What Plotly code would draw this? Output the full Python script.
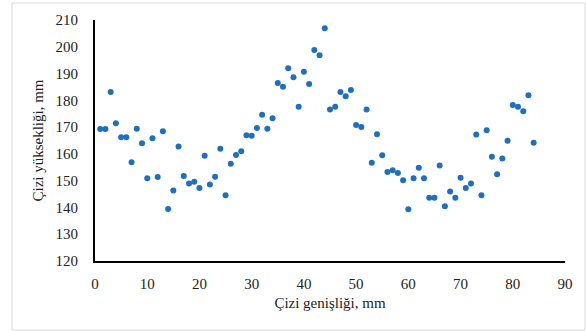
import plotly.graph_objects as go

x_vals = list(range(1, 85))
y_vals = [169.3, 169.3, 183.1, 171.4, 166.2, 166.2, 156.9, 169.4, 164.0, 150.9,
          165.8, 151.4, 168.5, 139.4, 146.3, 162.8, 151.7, 148.9, 149.6, 147.3,
          159.3, 148.6, 151.5, 161.9, 144.6, 156.3, 159.6, 161.0, 167.0, 166.8,
          169.7, 174.6, 169.4, 173.3, 186.5, 185.1, 192.0, 188.6, 177.6, 190.7,
          186.1, 198.8, 196.8, 206.9, 176.6, 177.6, 183.1, 181.5, 183.9, 170.8,
          170.0, 176.6, 156.7, 167.3, 159.5, 153.2, 153.9, 152.9, 150.2, 139.3,
          150.9, 154.8, 150.9, 143.6, 143.6, 155.7, 140.4, 146.0, 143.6, 151.1,
          147.3, 148.9, 167.2, 144.6, 168.8, 158.9, 152.4, 158.3, 164.9, 178.3,
          177.6, 175.9, 181.9, 164.2]

x_ticks = [0, 10, 20, 30, 40, 50, 60, 70, 80, 90]
y_ticks = [120, 130, 140, 150, 160, 170, 180, 190, 200, 210]

fig = go.Figure(go.Scatter(
    x=x_vals, y=y_vals, mode="markers",
    marker=dict(size=6, color="#1F6FBF"),
    showlegend=False,
))

font = dict(family="Liberation Serif, Times New Roman, serif", size=15, color="#222222")

fig.update_layout(
    width=586, height=331,
    margin=dict(l=95, r=21, t=20, b=70),
    paper_bgcolor="white", plot_bgcolor="white",
    font=font,
    xaxis=dict(range=[0, 90], tickvals=x_ticks, showgrid=False, zeroline=False,
               showline=True, linecolor="black", linewidth=2, ticks="",
               ticklabelstandoff=8,
               title=dict(text="Çizi genişliği, mm", standoff=6, font=font)),
    yaxis=dict(range=[120, 210], tickvals=y_ticks, showgrid=False, zeroline=False,
               showline=True, linecolor="black", linewidth=2, ticks="",
               ticklabelstandoff=12,
               title=dict(text="Çizi yüksekliği, mm", standoff=8, font=font)),
    shapes=[dict(type="rect", xref="paper", yref="paper",
                 x0=-0.1766, x1=1.0426, y0=-0.2863, y1=1.0705,
                 line=dict(color="#D9D9D9", width=1), layer="below")],
)

fig.write_html("out.html")
